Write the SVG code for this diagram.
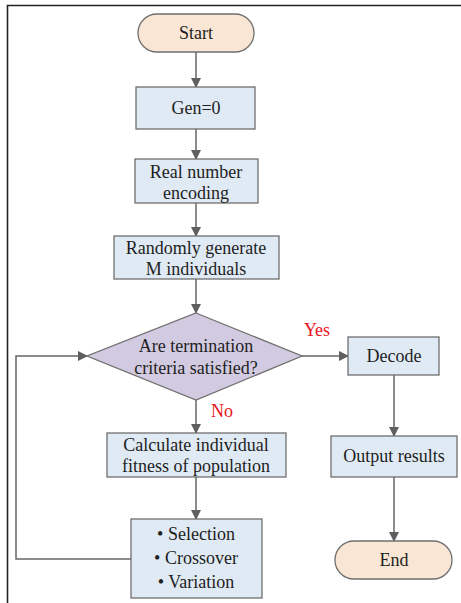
<svg xmlns="http://www.w3.org/2000/svg" width="461" height="603" viewBox="0 0 461 603">
<style>
text{font-family:'Liberation Serif','Times New Roman',serif;font-size:18px;text-anchor:middle}
.t{fill:#1e1e1e}
.r{fill:#e8141c}
.box{fill:#e0eaf4;stroke:#6f6f6f;stroke-width:1.3}
.term{fill:#f9e6d4;stroke:#6f6f6f;stroke-width:1.3}
.dia{fill:#d2cae0;stroke:#6f6f6f;stroke-width:1.3}
.c{fill:none;stroke:#666;stroke-width:1.5}
</style>
<defs>
<marker id="ah" markerWidth="10" markerHeight="10" refX="9" refY="5" orient="auto" markerUnits="userSpaceOnUse">
<path d="M0,0 L10,5 L0,10 Z" fill="#5f5f5f"/>
</marker>
</defs>
<rect width="461" height="603" fill="#fff"/>
<path d="M7.5,603 V5.5 H461" fill="none" stroke="#222" stroke-width="1.6"/>
<g id="connectors">
<line class="c" x1="196" y1="52" x2="196" y2="87" marker-end="url(#ah)"/>
<line class="c" x1="196" y1="129" x2="196" y2="159" marker-end="url(#ah)"/>
<line class="c" x1="196" y1="203" x2="196" y2="236" marker-end="url(#ah)"/>
<line class="c" x1="196" y1="279" x2="196" y2="313" marker-end="url(#ah)"/>
<line class="c" x1="302" y1="356" x2="348" y2="356" marker-end="url(#ah)"/>
<line class="c" x1="196" y1="400" x2="196" y2="433" marker-end="url(#ah)"/>
<line class="c" x1="196" y1="477" x2="196" y2="519" marker-end="url(#ah)"/>
<polyline class="c" points="131,559 16,559 16,356 87,356" marker-end="url(#ah)"/>
<line class="c" x1="394" y1="375" x2="394" y2="436" marker-end="url(#ah)"/>
<line class="c" x1="394" y1="477" x2="394" y2="541" marker-end="url(#ah)"/>
<text class="r" x="317" y="336">Yes</text>
<text class="r" x="222" y="417">No</text>
</g>
<g id="start">
<rect class="term" x="138" y="14" width="116" height="38" rx="19"/>
<text class="t" x="196" y="39">Start</text>
</g>
<g id="gen">
<rect class="box" x="136" y="87" width="119" height="42"/>
<text class="t" x="196" y="114">Gen=0</text>
</g>
<g id="encoding">
<rect class="box" x="135" y="159" width="123" height="44"/>
<text class="t" x="196" y="178">Real number</text>
<text class="t" x="196" y="199">encoding</text>
</g>
<g id="random">
<rect class="box" x="114" y="236" width="165" height="43"/>
<text class="t" x="196" y="254">Randomly generate</text>
<text class="t" x="196" y="275">M individuals</text>
</g>
<g id="decision">
<polygon class="dia" points="196,313 302,356 196,400 87,356"/>
<text class="t" x="196" y="352">Are termination</text>
<text class="t" x="196" y="374">criteria satisfied?</text>
</g>
<g id="fitness">
<rect class="box" x="107" y="433" width="179" height="44"/>
<text class="t" x="196" y="451">Calculate individual</text>
<text class="t" x="196" y="472">fitness of population</text>
</g>
<g id="operators">
<rect class="box" x="131" y="519" width="131" height="79"/>
<text class="t" x="196" y="540">• Selection</text>
<text class="t" x="196" y="564">• Crossover</text>
<text class="t" x="196" y="588">• Variation</text>
</g>
<g id="decode">
<rect class="box" x="348" y="337" width="91" height="38"/>
<text class="t" x="394" y="362">Decode</text>
</g>
<g id="output">
<rect class="box" x="331" y="436" width="126" height="41"/>
<text class="t" x="394" y="462">Output results</text>
</g>
<g id="end">
<rect class="term" x="335" y="541" width="117" height="38" rx="19"/>
<text class="t" x="394" y="566">End</text>
</g>
</svg>
